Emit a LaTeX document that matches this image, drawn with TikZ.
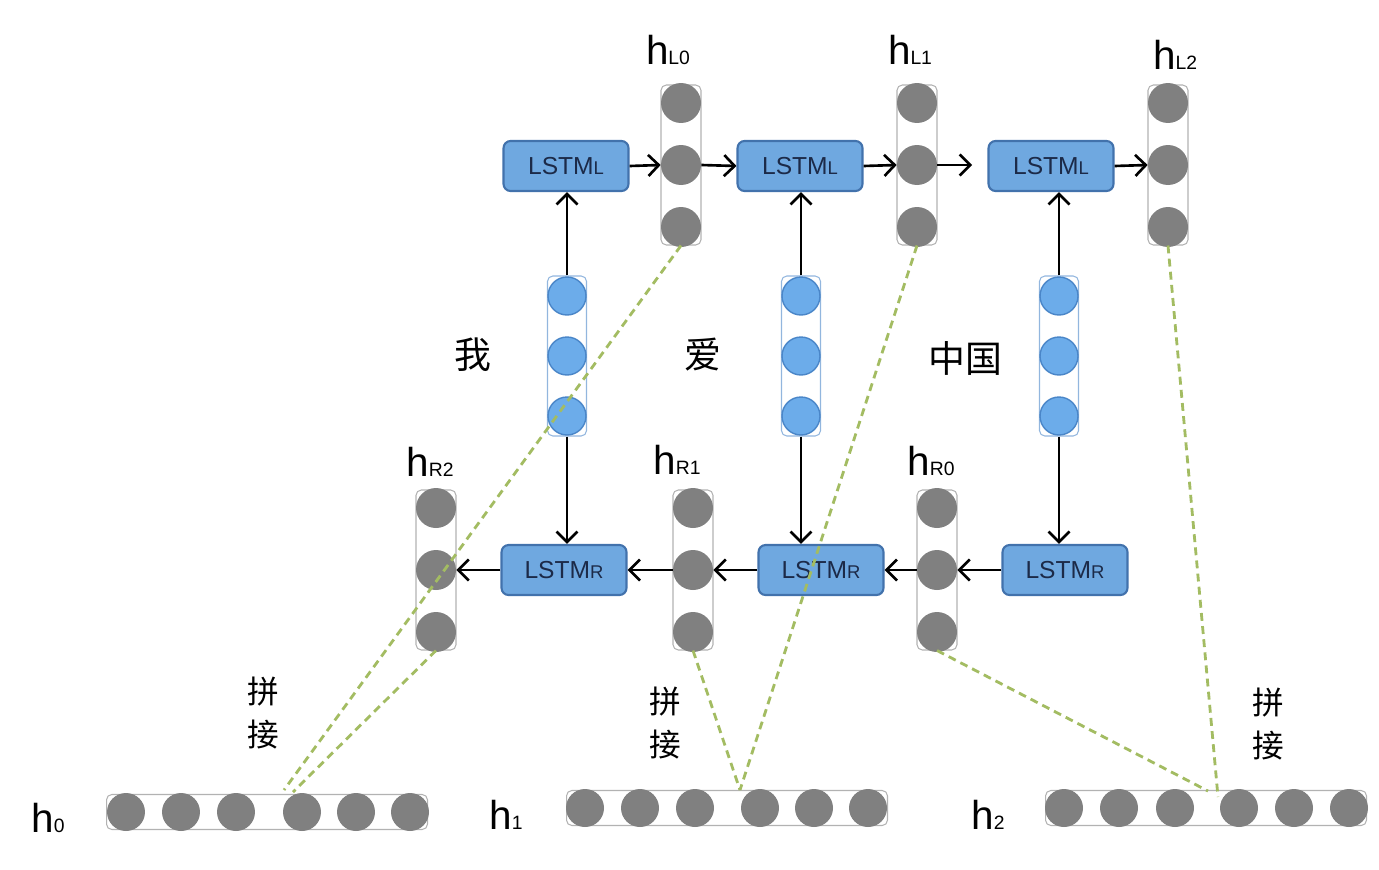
\documentclass[tikz,border=0pt]{standalone}
\usepackage{fontspec}
\setmainfont{Liberation Sans}
\newfontfamily\cjk{Noto Sans CJK SC}
\usetikzlibrary{arrows.meta,positioning}
\definecolor{lstmblue}{RGB}{111,168,224}
\definecolor{lstmedge}{RGB}{66,114,172}
\definecolor{lstmtext}{RGB}{28,42,72}
\definecolor{embblue}{RGB}{108,172,234}
\definecolor{embedge}{RGB}{74,134,200}
\definecolor{hidgray}{RGB}{128,128,128}
\definecolor{catgreen}{RGB}{163,188,98}

\begin{document}
\begin{tikzpicture}[x=0.02cm, y=-0.02cm,
    lstm/.style={rounded corners=4pt, draw=lstmedge, fill=lstmblue, line width=1.2pt, minimum width=2.5cm, minimum height=1cm, inner sep=0pt, text=lstmtext, font=\fontsize{14}{16}\selectfont},
    hcol/.style={rounded corners=3pt, draw=gray!60, line width=0.6pt, minimum width=0.8cm, minimum height=3.2cm, inner sep=0pt},
    ecol/.style={rounded corners=3pt, draw=embedge!60, line width=0.6pt, minimum width=0.78cm, minimum height=3.2cm, inner sep=0pt},
    hrow/.style={rounded corners=3pt, draw=gray!60, line width=0.6pt, minimum width=6.42cm, minimum height=0.7cm, inner sep=0pt},
    hdot/.style={circle, fill=hidgray, minimum size=0.8cm, inner sep=0pt},
    rdot/.style={circle, fill=hidgray, minimum size=0.76cm, inner sep=0pt},
    edot/.style={circle, fill=embblue, draw=embedge, line width=0.8pt, minimum size=0.76cm, inner sep=0pt},
    flow/.style={-{Straight Barb[length=6pt,width=12pt]}, line width=1.5pt},
    concat/.style={draw=catgreen, line width=1.6pt, dash pattern=on 4.5pt off 3pt},
    hlabel/.style={font=\fontsize{23}{25}\selectfont, inner sep=0pt},
    word/.style={font=\cjk\fontsize{21}{23}\selectfont, inner sep=0pt},
    catword/.style={font=\cjk\fontsize{18}{25}\selectfont, align=center, inner sep=0pt}
  ]
  \useasboundingbox (0,0) rectangle (1379,869);

  % forward cells
  \node[lstm] (Lcell0) at (566,166) {LSTM{\fontsize{10.5}{12}\selectfont L}};
  \node[lstm] (Lcell1) at (800,166) {LSTM{\fontsize{10.5}{12}\selectfont L}};
  \node[lstm] (Lcell2) at (1051,166) {LSTM{\fontsize{10.5}{12}\selectfont L}};

  % backward cells
  \node[lstm] (Rcell0) at (564,570) {LSTM{\fontsize{10.5}{12}\selectfont R}};
  \node[lstm] (Rcell1) at (821,570) {LSTM{\fontsize{10.5}{12}\selectfont R}};
  \node[lstm] (Rcell2) at (1065,570) {LSTM{\fontsize{10.5}{12}\selectfont R}};

  % hidden state columns
  \foreach \n/\x in {hL0/681,hL1/917,hL2/1168} {
    \node[hcol] (\n) at (\x,165) {};
    \foreach \k/\y in {a/103,b/165,c/227}
      \node[hdot] (\n\k) at (\x,\y) {};
  }
  \foreach \n/\x in {hR2/436,hR1/693,hR0/937} {
    \node[hcol] (\n) at (\x,570) {};
    \foreach \k/\y in {a/508,b/570,c/632}
      \node[hdot] (\n\k) at (\x,\y) {};
  }

  % word embeddings
  \foreach \n/\x in {emb0/567,emb1/801,emb2/1059} {
    \node[ecol] (\n) at (\x,356) {};
    \foreach \k/\y in {a/296,b/356,c/416}
      \node[edot] (\n\k) at (\x,\y) {};
  }

  % concatenated outputs
  \node[hrow] (h0row) at (267,812) {};
  \foreach \k/\x in {a/126,b/181,c/236,d/302,e/356,f/410}
    \node[rdot] (h0\k) at (\x,812) {};
  \node[hrow] (h1row) at (727,808) {};
  \foreach \k/\x in {a/585,b/640,c/695,d/760,e/814,f/868}
    \node[rdot] (h1\k) at (\x,808) {};
  \node[hrow] (h2row) at (1206,808) {};
  \foreach \k/\x in {a/1064,b/1119,c/1175,d/1239,e/1294,f/1349}
    \node[rdot] (h2\k) at (\x,808) {};

  % labels
  \node[hlabel] (tL0) at (668,50) {h{\fontsize{11}{12}\selectfont L0}};
  \node[hlabel] (tL1) at (910,50) {h{\fontsize{11}{12}\selectfont L1}};
  \node[hlabel] (tL2) at (1175,55) {h{\fontsize{11}{12}\selectfont L2}};
  \node[hlabel] (tR2) at (430,462) {h{\fontsize{11}{12}\selectfont R2}};
  \node[hlabel] (tR1) at (677,460) {h{\fontsize{11}{12}\selectfont R1}};
  \node[hlabel] (tR0) at (931,461) {h{\fontsize{11}{12}\selectfont R0}};
  \node[hlabel] (t0) at (48,818) {h{\fontsize{11}{12}\selectfont 0}};
  \node[hlabel] (t1) at (506,815) {h{\fontsize{11}{12}\selectfont 1}};
  \node[hlabel] (t2) at (988,815) {h{\fontsize{11}{12}\selectfont 2}};

  \node[word] (w0) at (473,355) {我};
  \node[word] (w1) at (703,355) {爱};
  \node[word] (w2) at (965,358) {中国};

  \node[catword] (cat0) at (263,713) {拼\\接};
  \node[catword] (cat1) at (665,723) {拼\\接};
  \node[catword] (cat2) at (1268,724) {拼\\接};

  % forward arrows
  \coordinate (gap) at (972,165);
  \draw[flow] (Lcell0.east) -- (hL0b.west);
  \draw[flow] (hL0b.east) -- (Lcell1.west);
  \draw[flow] (Lcell1.east) -- (hL1b.west);
  \draw[flow] (hL1b.east) -- (gap);
  \draw[flow] (Lcell2.east) -- (hL2b.west);

  % embeddings into cells
  \draw[flow] (emb0.north) -- (emb0.north |- Lcell0.south);
  \draw[flow] (emb1.north) -- (emb1.north |- Lcell1.south);
  \draw[flow] (emb2.north) -- (emb2.north |- Lcell2.south);
  \draw[flow] (emb0.south) -- (emb0.south |- Rcell0.north);
  \draw[flow] (emb1.south) -- (emb1.south |- Rcell1.north);
  \draw[flow] (emb2.south) -- (emb2.south |- Rcell2.north);

  % backward arrows
  \draw[flow] (Rcell2.west) -- (hR0b.east);
  \draw[flow] (hR0b.west) -- (Rcell1.east);
  \draw[flow] (Rcell1.west) -- (hR1b.east);
  \draw[flow] (hR1b.west) -- (Rcell0.east);
  \draw[flow] (Rcell0.west) -- (hR2b.east);

  % concatenation
  \coordinate (j0a) at (284,790);
  \coordinate (j0b) at (293,792);
  \coordinate (j1) at (740,790);
  \coordinate (j2a) at (1208,791);
  \coordinate (j2b) at (1218,797);
  \draw[concat] (hL0.south) -- (j0a);
  \draw[concat] (hR2.south) -- (j0b);
  \draw[concat] (hL1.south) -- (j1);
  \draw[concat] (hR1.south) -- (j1);
  \draw[concat] (hL2.south) -- (j2b);
  \draw[concat] (hR0.south) -- (j2a);
\end{tikzpicture}
\end{document}
